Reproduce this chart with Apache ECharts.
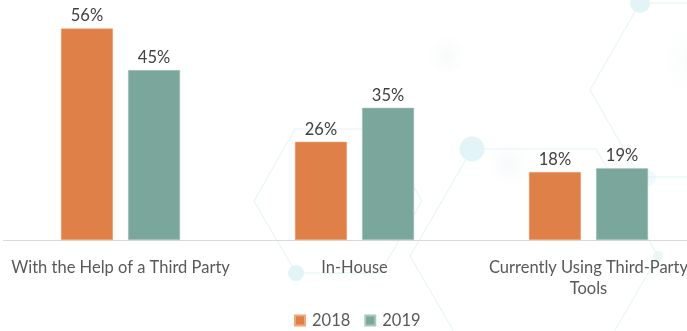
<!DOCTYPE html>
<html>
<head>
<meta charset="utf-8">
<script src="https://cdn.jsdelivr.net/npm/echarts@6/dist/echarts.min.js"></script>
<style>
  html, body { margin: 0; padding: 0; background: #ffffff; }
  #chart { width: 687px; height: 331px; }
</style>
</head>
<body>
<div id="chart"></div>
<script>
// Survey responses by approach, 2018 vs 2019 (percent of respondents)
const categories = [
  'With the Help of a Third Party',
  'In-House',
  'Currently Using Third-Party\nTools'
];
const seriesNames = ['2018', '2019'];
const values2018 = [56, 26, 18];
const values2019 = [45, 35, 19];

const ORANGE = '#DE8047';
const TEAL = '#7BA69C';
const LINE = '#E2F3F6';
const DOT = '#E2F4F7';
const FONT = 'Lato, "Open Sans", sans-serif';

// Faint hexagon network drawn behind the bars
function hexagon(points) {
  return {
    type: 'polygon',
    z: -10,
    silent: true,
    shape: { points: points },
    style: { fill: 'none', stroke: LINE, lineWidth: 1 }
  };
}
function dot(cx, cy, r, color) {
  return {
    type: 'circle',
    z: -9,
    silent: true,
    shape: { cx: cx, cy: cy, r: r },
    style: { fill: color }
  };
}
function glow(cx, cy, r) {
  return {
    type: 'circle',
    z: -11,
    silent: true,
    shape: { cx: cx, cy: cy, r: r },
    style: {
      fill: {
        type: 'radial', x: 0.5, y: 0.5, r: 0.5,
        colorStops: [
          { offset: 0, color: 'rgba(205,220,226,0.14)' },
          { offset: 1, color: 'rgba(205,220,226,0)' }
        ]
      }
    }
  };
}

const chart = echarts.init(document.getElementById('chart'));
chart.setOption({
  backgroundColor: '#ffffff',
  animation: false,
  graphic: {
    elements: [
      glow(447, 55, 20),
      glow(510, 165, 24),
      glow(700, 60, 40),
      hexagon([[295,129],[380,129],[422,201],[380,273],[296,273],[254,201]]),
      hexagon([[472,149],[596,149],[658,256],[596,363],[472,363],[410,256]]),
      hexagon([[640,3],[740,3],[790,90],[740,177],[640,177],[590,90]]),
      dot(640, 3, 10, DOT),
      dot(472, 149, 12.5, DOT),
      dot(296, 273, 8, DOT),
      dot(658, 256, 5, '#EAF6F8'),
      dot(648, 178, 8, 'rgba(226,244,247,0.5)')
    ]
  },
  grid: {
    left: 3.5, width: 702, top: 13.4, bottom: 91,
    containLabel: false, outerBoundsMode: 'none'
  },
  legend: {
    data: seriesNames,
    left: 289,
    top: 307,
    icon: 'rect',
    itemWidth: 10,
    itemHeight: 10,
    itemGap: 14,
    textStyle: { color: '#595959', fontSize: 16.5, fontFamily: FONT, padding: [0, 0, 0, 2] }
  },
  xAxis: {
    type: 'category',
    data: categories,
    axisLine: { show: true, lineStyle: { color: '#D9D9D9', width: 1 } },
    axisTick: { show: false },
    axisLabel: {
      color: '#595959',
      fontSize: 16.5,
      fontFamily: FONT,
      margin: 17,
      lineHeight: 21,
      interval: 0
    }
  },
  yAxis: {
    type: 'value',
    min: 0,
    max: 60,
    show: false,
    splitLine: { show: false }
  },
  series: [
    {
      name: seriesNames[0],
      type: 'bar',
      data: values2018,
      barWidth: 52,
      barGap: '29%',
      itemStyle: { color: ORANGE, borderColor: '#F0A878', borderWidth: 0.5 },
      label: {
        show: true, position: 'top', distance: 4,
        formatter: '{c}%', color: '#404040', fontSize: 16.5, fontFamily: FONT
      }
    },
    {
      name: seriesNames[1],
      type: 'bar',
      data: values2019,
      barWidth: 52,
      barGap: '29%',
      itemStyle: { color: TEAL, borderColor: '#A9C8C0', borderWidth: 0.5 },
      label: {
        show: true, position: 'top', distance: 4,
        formatter: '{c}%', color: '#404040', fontSize: 16.5, fontFamily: FONT
      }
    }
  ]
});
</script>
</body>
</html>
